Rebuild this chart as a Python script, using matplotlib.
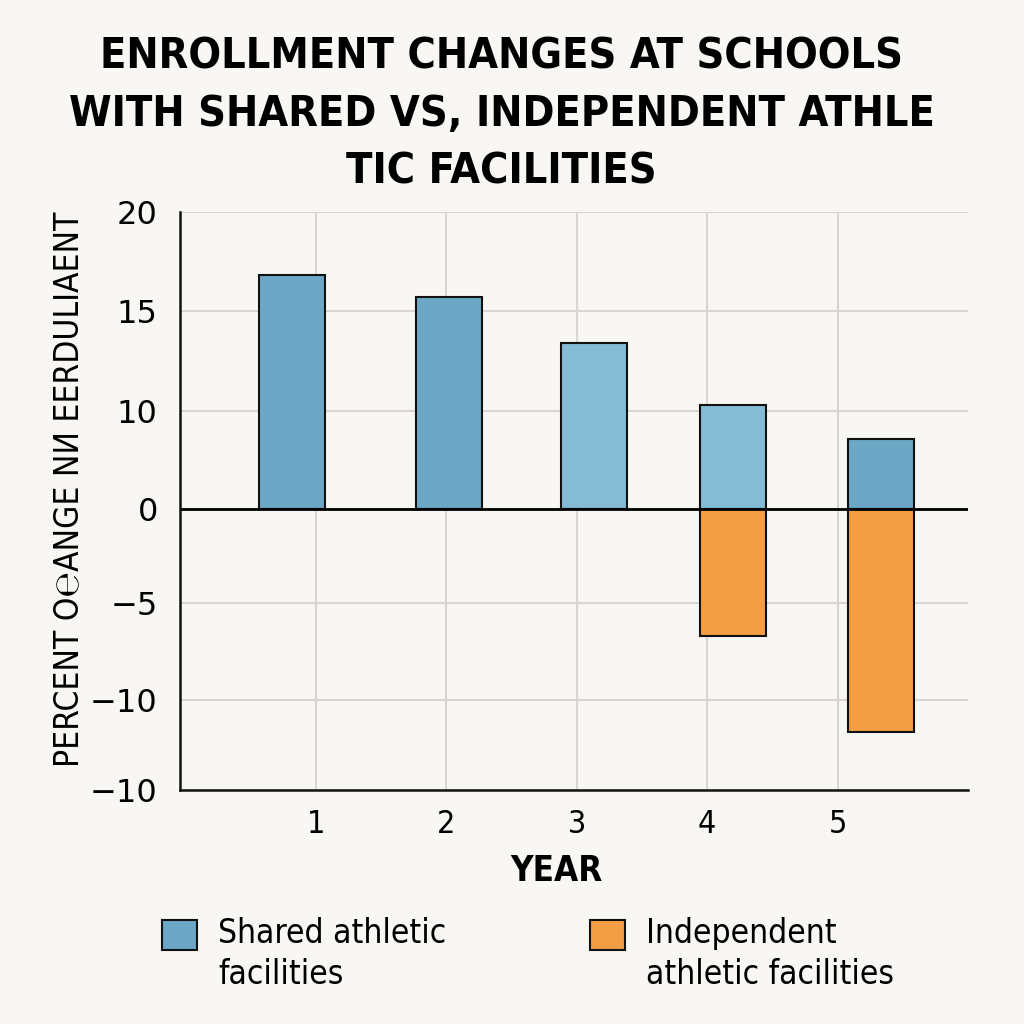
import numpy as np
import matplotlib
matplotlib.use('Agg')
import matplotlib.pyplot as plt
from matplotlib.patches import Rectangle
from matplotlib.container import BarContainer
from matplotlib.legend_handler import HandlerPatch

# data
years = [1, 2, 3, 4, 5]
bar_x = [0.82, 2.02, 3.13, 4.20, 5.33]
shared = [16.8, 15.7, 13.4, 10.3, 7.1]
independent = [0, 0, 0, -6.7, -11.8]
shared_colors = ['#6ca7c5', '#6ca7c5', '#84bbd5', '#84bbd5', '#6ca7c5']

ytick_vals = [-15, -10, -5, 0, 10, 15, 20]
ytick_labels = ['\u221210', '\u221210', '\u22125', '0', '10', '15', '20']
# the axis is not linear: gridlines are evenly spaced but the labels are not
ytick_pos = [-2.87, -1.95, -0.96, 0, 1.0, 2.02, 3.03]

title = "ENROLLMENT CHANGES AT SCHOOLS\nWITH SHARED VS, INDEPENDENT ATHLE\nTIC FACILITIES"
ylabel = "PERCENT O\u212eANGE N\u0418 EERDULIAENT"

bg = '#f9f7f3'
plt.rcParams['font.family'] = ['DejaVu Sans']

fig = plt.figure(figsize=(10.24, 10.24), dpi=100, facecolor=bg)
ax = fig.add_axes([0.1758, 0.2285, 0.7695, 0.5645], facecolor=bg)

fwd = lambda v: np.interp(v, ytick_vals, ytick_pos)
inv = lambda p: np.interp(p, ytick_pos, ytick_vals)
ax.set_yscale('function', functions=(fwd, inv))
ax.set_ylim(-15, 20)
ax.set_xlim(-0.04, 6.0)

ax.bar(bar_x, shared, width=0.506, color=shared_colors, edgecolor='#111111',
       linewidth=1.5, zorder=3, label='Shared athletic\nfacilities')
ax.bar(bar_x, independent, width=0.506, color='#f39d45', edgecolor='#111111',
       linewidth=1.5, zorder=3, label='Independent\nathletic facilities')
ax.axhline(0, color='black', lw=2.0, zorder=4)

ax.set_yticks(ytick_vals)
ax.set_yticklabels(ytick_labels)
ax.set_xticks(years)
ax.set_xticklabels([str(y) for y in years])
ax.tick_params(length=0, labelsize=23)
ax.tick_params(axis='y', pad=16)
ax.tick_params(axis='x', pad=14)
for lab in ax.get_xticklabels():
    lab.set_stretch('condensed')
ax.grid(True, color='#d9d6d2', lw=1.5, zorder=0)

for s in ['top', 'right']:
    ax.spines[s].set_visible(False)
for s in ['left', 'bottom']:
    ax.spines[s].set_linewidth(1.8)
    ax.spines[s].set_color('#111111')

ax.set_xlabel('YEAR', fontsize=25, stretch='condensed', fontweight='bold')
ax.xaxis.set_label_coords(0.478, -0.11)
ax.set_ylabel(ylabel, fontsize=24, stretch='condensed')
ax.yaxis.set_label_coords(-0.12, 0.52)

fig.text(0.49, 0.965, title, ha='center', va='top', fontsize=31,
         fontweight='bold', stretch='condensed', linespacing=1.47)


def top_square(legend, orig_handle, xdescent, ydescent, width, height, fontsize):
    # square sits next to the first line of the two-line label
    return Rectangle((-xdescent, -ydescent + 0.62 * fontsize), width, height)


def first_bar(tgt, src):
    tgt.update_from(src.patches[0])


handles, labels = ax.get_legend_handles_labels()
leg = fig.legend(handles, labels, loc='upper left', bbox_to_anchor=(0.1285, 0.134),
                 ncol=2, frameon=False, prop={'size': 24, 'stretch': 'condensed'},
                 handlelength=1.05, handleheight=1.0, columnspacing=4.3,
                 handletextpad=0.64,
                 handler_map={BarContainer: HandlerPatch(patch_func=top_square,
                                                         update_func=first_bar)})
for t in leg.get_texts():
    t.set_linespacing(1.3)

fig.savefig('out.png', dpi=100, facecolor=bg)
